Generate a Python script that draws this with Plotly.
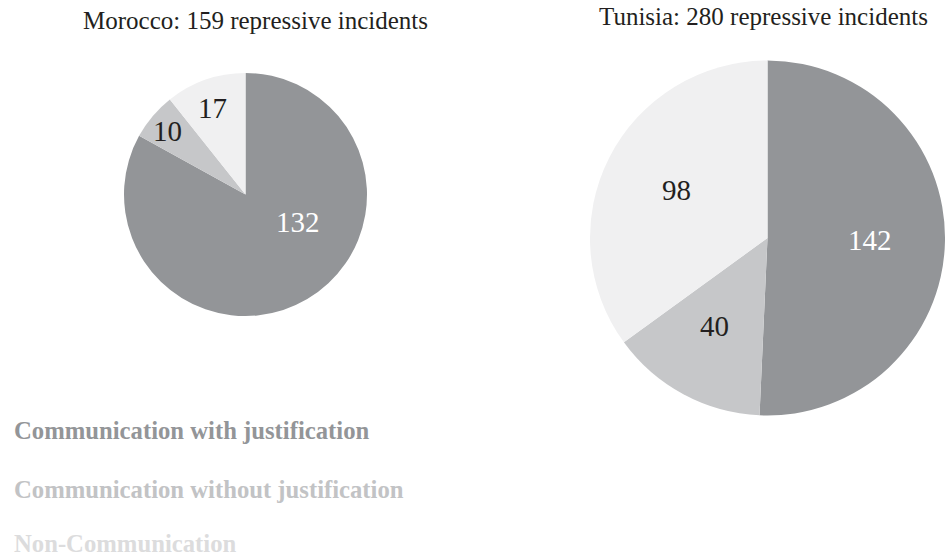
import math
import plotly.graph_objects as go

# Incident counts per country, in category order
categories = ["Communication with justification",
              "Communication without justification",
              "Non-Communication"]
morocco_values = [132, 10, 17]
tunisia_values = [142, 40, 98]
countries = ["Morocco", "Tunisia"]

W, H = 945, 556
SERIF = "Liberation Serif, Times New Roman, serif"

slice_colors = ["#939598", "#c6c7c9", "#f0f0f1"]
legend_colors = ["#939598", "#c2c3c5", "#dcdcdd"]
label_colors = ["#ffffff", "#231f20", "#231f20"]

# pie domains in pixels (left, top, right, bottom)
domains_px = {
    "Morocco": (124, 73, 367, 316),
    "Tunisia": (590, 60.5, 945, 415.5),
}
# label placement: fraction of radius and angular nudge (deg) per slice
label_radius = {"Morocco": [0.49, 0.83, 0.76], "Tunisia": [0.58, 0.58, 0.58]}
label_nudge = {"Morocco": [-32, -1, -2], "Tunisia": [0, 3, 1]}
title_pos = {"Morocco": (255.5, 21), "Tunisia": (763.5, 16)}


def px_to_paper(x, y):
    return x / W, 1 - y / H


fig = go.Figure()
annotations = []
for country, values in zip(countries, [morocco_values, tunisia_values]):
    l, t, r, b = domains_px[country]
    fig.add_trace(go.Pie(
        labels=categories,
        values=values,
        sort=False,
        direction="clockwise",
        rotation=0,
        marker=dict(colors=slice_colors, line=dict(width=0)),
        textinfo="none",
        hoverinfo="label+value",
        showlegend=False,
        domain=dict(x=[l / W, r / W], y=[1 - b / H, 1 - t / H]),
        name=country,
    ))
    # value labels placed from each slice's angular extent
    cx, cy = (l + r) / 2, (t + b) / 2
    rad = min(r - l, b - t) / 2
    total = sum(values)
    start = 0.0
    for i, v in enumerate(values):
        span = v / total * 360
        mid = math.radians(start + span / 2 + label_nudge[country][i])
        start += span
        d = label_radius[country][i] * rad
        x, y = px_to_paper(cx + d * math.sin(mid), cy - d * math.cos(mid))
        annotations.append(dict(
            x=x, y=y, xref="paper", yref="paper",
            xanchor="center", yanchor="middle", showarrow=False,
            text=str(v),
            font=dict(family=SERIF, size=29, color=label_colors[i]),
        ))
    tx, ty = px_to_paper(*title_pos[country])
    annotations.append(dict(
        x=tx, y=ty, xref="paper", yref="paper",
        xanchor="center", yanchor="middle", showarrow=False,
        text=f"{country}: {total} repressive incidents",
        font=dict(family=SERIF, size=25, color="#231f20"),
    ))

# legend rendered as coloured category names
legend_y = [430, 489, 543]
for cat, col, ly in zip(categories, legend_colors, legend_y):
    x, y = px_to_paper(13, ly)
    annotations.append(dict(
        x=x, y=y, xref="paper", yref="paper",
        xanchor="left", yanchor="middle", showarrow=False,
        text=f"<b>{cat}</b>",
        font=dict(family=SERIF, size=24.7, color=col),
        borderpad=0,
    ))

fig.update_layout(
    width=W, height=H,
    margin=dict(l=0, r=0, t=0, b=0),
    paper_bgcolor="white",
    plot_bgcolor="white",
    annotations=annotations,
)

fig.write_html("out.html")
